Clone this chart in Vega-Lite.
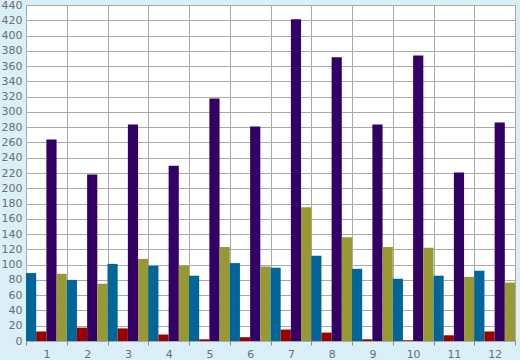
{
  "$schema": "https://vega.github.io/schema/vega-lite/v6.json",
  "autosize": {"type": "none"},
  "width": 489,
  "height": 336,
  "padding": {"left": 26, "top": 5, "right": 5, "bottom": 19},
  "background": "#daeff7",
  "config": {
    "view": {"fill": "#ffffff", "stroke": "#aaaaaa", "strokeWidth": 1},
    "axis": {"labelFont": "DejaVu Sans", "labelFontSize": 11, "labelColor": "#6e6e6e", "gridColor": "#aaaaaa", "gridOpacity": 1, "gridWidth": 1, "domain": false, "title": null}
  },
  "data": {
    "values": [
      {"g": "1", "s": "a", "v": 89}, {"g": "1", "s": "b", "v": 12.5}, {"g": "1", "s": "c", "v": 264}, {"g": "1", "s": "d", "v": 88},
      {"g": "2", "s": "a", "v": 80}, {"g": "2", "s": "b", "v": 17.5}, {"g": "2", "s": "c", "v": 218}, {"g": "2", "s": "d", "v": 75},
      {"g": "3", "s": "a", "v": 101}, {"g": "3", "s": "b", "v": 16.5}, {"g": "3", "s": "c", "v": 283.5}, {"g": "3", "s": "d", "v": 107.5},
      {"g": "4", "s": "a", "v": 98.5}, {"g": "4", "s": "b", "v": 8.5}, {"g": "4", "s": "c", "v": 229.5}, {"g": "4", "s": "d", "v": 98.5},
      {"g": "5", "s": "a", "v": 85.5}, {"g": "5", "s": "b", "v": 2.2}, {"g": "5", "s": "c", "v": 317.5}, {"g": "5", "s": "d", "v": 123},
      {"g": "6", "s": "a", "v": 102}, {"g": "6", "s": "b", "v": 5}, {"g": "6", "s": "c", "v": 281}, {"g": "6", "s": "d", "v": 97.5},
      {"g": "7", "s": "a", "v": 96}, {"g": "7", "s": "b", "v": 15}, {"g": "7", "s": "c", "v": 421.5}, {"g": "7", "s": "d", "v": 175},
      {"g": "8", "s": "a", "v": 111.5}, {"g": "8", "s": "b", "v": 11}, {"g": "8", "s": "c", "v": 371.5}, {"g": "8", "s": "d", "v": 136},
      {"g": "9", "s": "a", "v": 94.5}, {"g": "9", "s": "b", "v": 2.2}, {"g": "9", "s": "c", "v": 283.5}, {"g": "9", "s": "d", "v": 123},
      {"g": "10", "s": "a", "v": 81.5}, {"g": "10", "s": "b", "v": 1}, {"g": "10", "s": "c", "v": 374}, {"g": "10", "s": "d", "v": 122},
      {"g": "11", "s": "a", "v": 85.5}, {"g": "11", "s": "b", "v": 7.5}, {"g": "11", "s": "c", "v": 220.5}, {"g": "11", "s": "d", "v": 84},
      {"g": "12", "s": "a", "v": 92}, {"g": "12", "s": "b", "v": 12.5}, {"g": "12", "s": "c", "v": 286}, {"g": "12", "s": "d", "v": 76.5}
    ]
  },
  "mark": {"type": "bar"},
  "encoding": {
    "x": {
      "field": "g", "type": "ordinal",
      "sort": ["1","2","3","4","5","6","7","8","9","10","11","12"],
      "scale": {"paddingInner": 0, "paddingOuter": 0},
      "axis": {"labelAngle": 0, "tickBand": "extent", "tickColor": "#888888", "tickSize": 4, "labelPadding": 3, "grid": true, "labelBaseline": "top"}
    },
    "xOffset": {"field": "s", "type": "nominal", "scale": {"paddingInner": 0, "paddingOuter": 0}},
    "y": {
      "field": "v", "type": "quantitative",
      "scale": {"domain": [0, 440], "nice": false},
      "axis": {"values": [0,20,40,60,80,100,120,140,160,180,200,220,240,260,280,300,320,340,360,380,400,420,440], "ticks": false, "labelPadding": 4, "grid": true}
    },
    "color": {
      "field": "s", "type": "nominal",
      "scale": {"domain": ["a","b","c","d"], "range": ["#006699", "#990000", "#330066", "#999933"]},
      "legend": null
    }
  }
}
